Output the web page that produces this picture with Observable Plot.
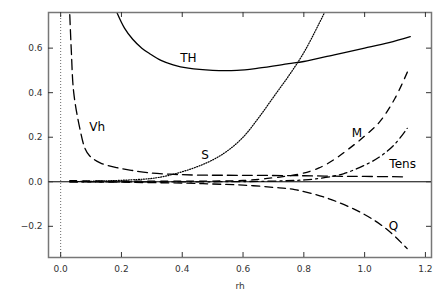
<!DOCTYPE html>
<html>
<head>
<meta charset="utf-8">
<script src="https://cdn.jsdelivr.net/npm/d3@7"></script>
<script src="https://cdn.jsdelivr.net/npm/@observablehq/plot@0.6"></script>
<style>
  body { margin: 0; background: #fff; }
  #chart { width: 445px; height: 295px; }
</style>
</head>
<body>
<div id="chart"></div>
<script>
const xTicks = [0, 0.2, 0.4, 0.6, 0.8, 1, 1.2];
const yTicks = [-0.2, 0, 0.2, 0.4, 0.6];

const thX = [0.185, 0.21, 0.237, 0.267, 0.293, 0.33, 0.37, 0.42, 0.5, 0.58, 0.65, 0.75, 0.8, 0.9, 1.0, 1.08, 1.15];
const thY = [0.76, 0.69, 0.64, 0.60, 0.575, 0.545, 0.525, 0.51, 0.50, 0.50, 0.51, 0.53, 0.54, 0.57, 0.60, 0.625, 0.652];

const vhX = [0.03, 0.035, 0.043, 0.063, 0.08, 0.095, 0.13, 0.185, 0.24, 0.29, 0.36, 0.45, 0.6, 0.8, 0.9, 1.0, 1.14];
const vhY = [0.75, 0.59, 0.40, 0.24, 0.15, 0.117, 0.085, 0.063, 0.05, 0.04, 0.034, 0.03, 0.029, 0.027, 0.025, 0.024, 0.022];

const sX = [0.05, 0.15, 0.25, 0.3, 0.35, 0.4, 0.45, 0.5, 0.55, 0.6, 0.65, 0.7, 0.75, 0.8, 0.85, 0.9];
const sY = [0.001, 0.004, 0.01, 0.015, 0.027, 0.045, 0.068, 0.098, 0.14, 0.20, 0.285, 0.38, 0.475, 0.58, 0.71, 0.85];

const mX = [0.03, 0.2, 0.4, 0.6, 0.7, 0.79, 0.85, 0.9, 0.95, 1.0, 1.05, 1.1, 1.143];
const mY = [0.005, 0.003, 0.003, 0.006, 0.018, 0.036, 0.062, 0.10, 0.15, 0.205, 0.27, 0.375, 0.50];

const tensX = [0.03, 0.5, 0.7, 0.8, 0.84, 0.93, 1.02, 1.06, 1.1, 1.14];
const tensY = [0.0, 0.0, 0.003, 0.008, 0.013, 0.036, 0.088, 0.122, 0.17, 0.24];

const qX = [0.03, 0.2, 0.4, 0.5, 0.6, 0.7, 0.77, 0.88, 0.99, 1.07, 1.14];
const qY = [0.0, -0.002, -0.006, -0.01, -0.015, -0.025, -0.035, -0.075, -0.14, -0.21, -0.30];

const labelNames = ["TH", "Vh", "S", "M", "Tens", "Q"];
const labelX = [0.42, 0.12, 0.475, 0.975, 1.125, 1.095];
const labelY = [0.553, 0.243, 0.12, 0.22, 0.077, -0.2];

const toPts = (xs, ys) => xs.map((x, i) => ({x, y: ys[i]}));
const labels = labelNames.map((t, i) => ({t, x: labelX[i], y: labelY[i]}));

const W = 445, H = 295, mL = 48, mR = 14, mT = 12, mB = 38;
const innerH = H - mT - mB, innerW = W - mL - mR;
const tickLen = 5;
const curve = "catmull-rom";

const chart = Plot.plot({
  width: W, height: H,
  marginLeft: mL, marginRight: mR, marginTop: mT, marginBottom: mB,
  style: {fontFamily: "DejaVu Sans", background: "#fff"},
  x: {domain: [-0.04, 1.22], ticks: xTicks},
  y: {domain: [-0.34, 0.76], ticks: yTicks},
  marks: [
    Plot.ruleX([0], {stroke: "#444", strokeWidth: 0.8, strokeDasharray: "1,2"}),
    Plot.ruleY([0], {stroke: "#000", strokeWidth: 1}),
    Plot.line(toPts(thX, thY), {x: "x", y: "y", stroke: "#000", strokeWidth: 1.3, curve, clip: true}),
    Plot.line(toPts(vhX, vhY), {x: "x", y: "y", stroke: "#000", strokeWidth: 1.3, strokeDasharray: "10,5", curve, clip: true}),
    Plot.line(toPts(sX, sY), {x: "x", y: "y", stroke: "#000", strokeWidth: 1.2, strokeDasharray: "1,1.5", curve, clip: true}),
    Plot.line(toPts(mX, mY), {x: "x", y: "y", stroke: "#000", strokeWidth: 1.3, strokeDasharray: "7,6", curve, clip: true}),
    Plot.line(toPts(tensX, tensY), {x: "x", y: "y", stroke: "#000", strokeWidth: 1.3, strokeDasharray: "8,4,2,4", curve, clip: true}),
    Plot.line(toPts(qX, qY), {x: "x", y: "y", stroke: "#000", strokeWidth: 1.3, strokeDasharray: "8,5", curve, clip: true}),
    Plot.text(labels, {x: "x", y: "y", text: "t", fontSize: 12, fill: "#000"}),
    Plot.frame({stroke: "#777", strokeWidth: 1.5}),
    Plot.tickX(xTicks, {x: d => d, insetTop: innerH - tickLen, stroke: "#333"}),
    Plot.tickX(xTicks, {x: d => d, insetBottom: innerH - tickLen, stroke: "#333"}),
    Plot.tickY(yTicks, {y: d => d, insetRight: innerW - tickLen, stroke: "#333"}),
    Plot.tickY(yTicks, {y: d => d, insetLeft: innerW - tickLen, stroke: "#333"}),
    Plot.axisX({ticks: xTicks, tickSize: 0, tickPadding: 8, fontSize: 9, fill: "#333", label: "rh", labelAnchor: "center", labelArrow: "none", labelOffset: 31}),
    Plot.axisY({ticks: yTicks, tickSize: 0, tickPadding: 6, fontSize: 9, fill: "#333", label: null})
  ]
});
document.getElementById("chart").appendChild(chart);
</script>
</body>
</html>
